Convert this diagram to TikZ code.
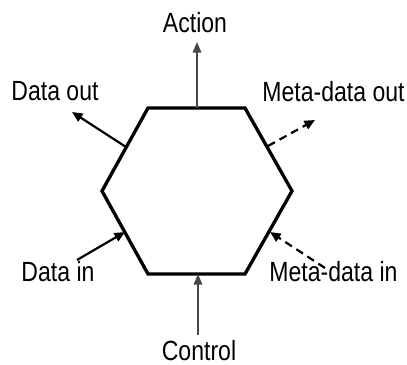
\documentclass[tikz,border=0pt]{standalone}
\usepackage{fontspec}
\setmainfont[FakeStretch=0.83]{Liberation Sans}
\usetikzlibrary{arrows.meta}
\tikzset{
  flow/.style={line width=1.25pt,-{Triangle[length=6pt,width=5.2pt]}},
  metaflow/.style={flow,dash pattern=on 4.5pt off 3pt},
  ctrl/.style={line width=0.95pt,black!72,-{Triangle[length=6pt,width=4.8pt]}},
  lbl/.style={anchor=base,inner sep=0pt,font=\fontsize{15.8}{18}\selectfont}
}
\begin{document}
\begin{tikzpicture}[x=0.02cm,y=-0.02cm]
		\useasboundingbox (0,0) rectangle (407,365);
		% Hexagon corners
		\coordinate (tl) at (148,108);
		\coordinate (tr) at (245,108);
		\coordinate (r) at (292,191);
		\coordinate (br) at (245,274);
		\coordinate (bl) at (148,274);
		\coordinate (l) at (102,191);
		\draw[line width=1.9pt,line join=miter] (tl) -- (tr) -- (r) -- (br) -- (bl) -- (l) -- cycle;
		% Points on the edges
		\coordinate (actin) at (197,108);
		\coordinate (ctlin) at (198,274);
		\coordinate (dout) at (126,147);
		\coordinate (din) at (125,232);
		\coordinate (mout) at (268,146);
		\coordinate (min) at (270,232);
		% Labels
		\node[lbl] (action) at (195,32) {Action};
		\node[lbl] (dataout) at (55,101) {Data out};
		\node[lbl] (metaout) at (333.5,102) {Meta-data out};
		\node[lbl] (datain) at (58,281.5) {Data in};
		\node[lbl] (metain) at (333.5,281.5) {Meta-data in};
		\node[lbl] (control) at (199,361) {Control};
		% Free ends of the arrows
		\coordinate (actout) at (197,42);
		\coordinate (ctlsrc) at (198,335);
		\coordinate (doutend) at (72,112);
		\coordinate (dinsrc) at (77,260);
		\coordinate (moutend) at (315,120);
		\coordinate (minsrc) at (325,268);
		% Arrows
		\draw[ctrl] (actin) -- (actout);
		\draw[ctrl] (ctlsrc) -- (ctlin);
		\draw[flow] (dout) -- (doutend);
		\draw[flow] (dinsrc) -- (din);
		\draw[metaflow] (mout) -- (moutend);
		\draw[metaflow] (minsrc) -- (min);
\end{tikzpicture}
\end{document}
